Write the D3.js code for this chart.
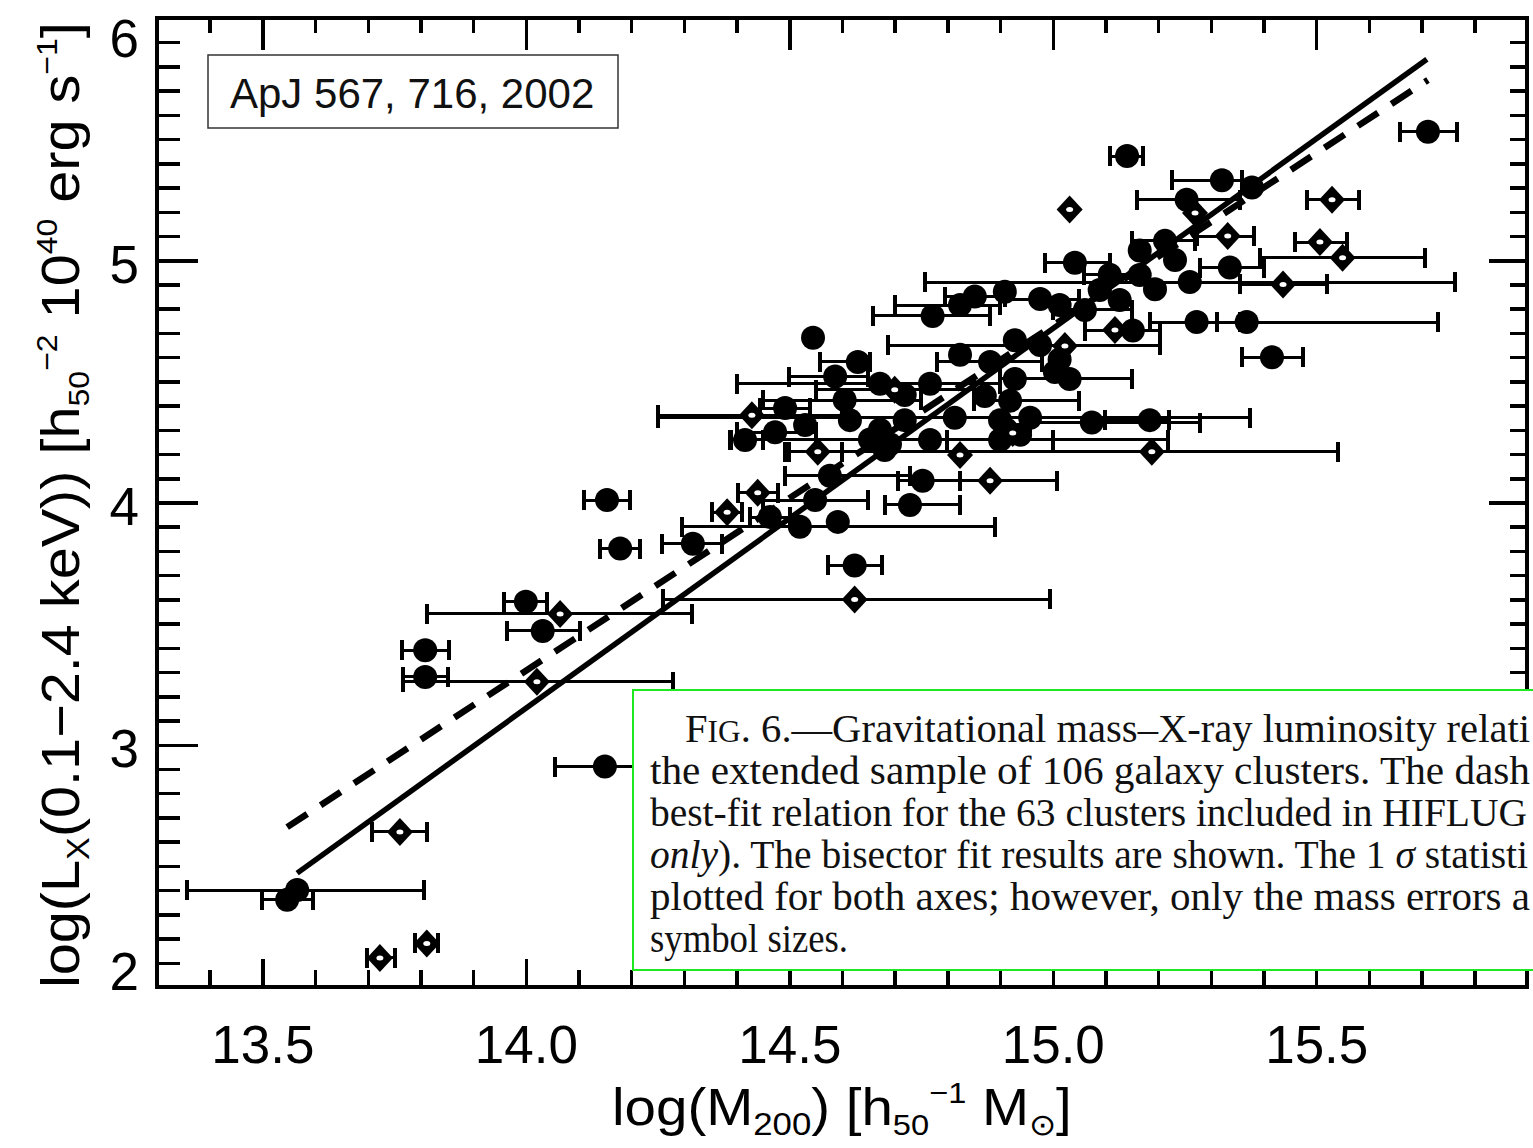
<!DOCTYPE html>
<html><head><meta charset="utf-8">
<script src="https://cdn.jsdelivr.net/npm/d3@7"></script>
<style>
html,body{margin:0;padding:0;background:#fff;overflow:hidden;}
svg{display:block;}
</style></head><body>
<svg id="chart" width="1533" height="1148"></svg>
<script>
// HIFLUGCS clusters (filled circles): log M200, log Lx, mass error bounds
const circMass = [13.566,13.547,13.809,13.809,14.000,14.032,14.150,14.154,14.179,14.624,14.317,15.712,15.141,15.321,15.254,15.416,15.368,14.545,14.772,15.273,15.213,15.165,15.042,15.108,15.194,15.260,15.336,14.852,14.909,14.976,15.152,14.928,14.630,14.587,14.824,15.013,15.032,14.672,14.767,14.871,14.928,14.492,14.530,14.615,14.672,14.719,14.814,14.900,14.957,15.074,15.184,14.653,14.691,14.938,14.753,14.577,14.729,14.520,14.592,14.463,15.378,14.919,14.473,
  14.681,14.976,15.004,14.900,15.013,15.061,15.089,14.767,14.605,14.719,15.165,15.232,14.824,14.549,14.416,15.127,14.881];
const circLum  = [2.40,2.36,3.39,3.28,3.59,3.47,2.91,4.01,3.81,3.74,3.83,5.53,5.43,5.33,5.25,4.60,4.745,4.68,4.77,4.745,5.08,5.04,4.99,4.94,4.88,4.91,4.97,4.85,4.87,4.84,4.71,4.67,4.58,4.52,4.61,4.59,4.51,4.49,4.49,4.44,4.51,4.39,4.32,4.34,4.30,4.34,4.35,4.34,4.35,4.33,4.34,4.26,4.24,4.28,4.09,4.11,3.99,3.90,3.92,3.94,5.30,4.42,4.29,
  4.217,4.650,4.539,4.258,4.815,4.795,4.877,4.258,4.423,4.444,4.939,5.001,4.815,4.010,4.258,4.836,4.580];
const circLo   = [13.357,13.499,13.765,13.767,13.958,13.964,14.055,14.110,14.141,14.573,14.258,15.659,15.108,15.226,15.160,15.359,15.311,null,14.659,15.184,15.150,null,14.985,15.060,null,14.757,15.280,14.795,null,14.900,15.061,null,14.558,14.500,null,null,14.900,14.400,null,null,null,14.444,null,null,null,null,14.251,null,null,14.957,15.100,14.387,null,null,14.706,14.492,14.681,14.296,null,14.425,null,14.850,14.400,
  null,14.687,null,14.800,null,15.000,null,null,14.450,null,null,null,14.700,14.450,14.390,null,14.780];
const circHi   = [13.807,13.596,13.854,13.852,14.040,14.103,14.245,14.198,14.217,14.676,14.372,15.767,15.171,15.359,15.355,15.475,15.731,null,14.881,15.355,15.270,null,15.108,15.160,null,15.763,15.400,14.909,null,15.050,15.203,null,14.653,14.650,null,null,15.150,14.900,null,null,null,14.539,null,null,null,null,15.374,null,null,15.279,15.220,15.218,null,null,14.824,14.729,14.824,14.890,null,14.501,null,15.050,14.550,
  null,15.203,null,15.000,null,15.150,null,null,14.750,null,null,null,14.900,14.650,14.450,null,14.980];

// Additional clusters of the extended sample (open diamonds)
const diaMass = [13.723,13.812,13.761,14.065,14.021,14.624,15.530,15.032,15.332,15.507,15.550,15.437,14.881,14.440,14.382,14.429,15.188,14.554,15.270,14.924,15.023,14.700,14.824,15.118];
const diaLum  = [2.12,2.18,2.64,3.54,3.26,3.60,5.25,5.21,5.10,5.075,5.01,4.90,4.09,4.04,3.96,4.36,4.21,4.21,5.195,4.287,4.646,4.465,4.196,4.712];
const diaLo   = [13.698,13.790,13.708,13.812,13.767,14.260,15.482,null,15.273,15.459,15.393,15.355,14.706,14.402,14.353,14.250,14.492,14.500,null,null,null,14.550,null,null];
const diaHi   = [13.752,13.833,13.812,14.315,14.279,14.994,15.581,null,15.382,15.558,15.706,15.520,15.008,14.478,14.410,14.600,15.541,14.600,null,null,null,14.850,null,null];

// Bisector fits: solid = extended sample, dashed = HIFLUGCS only
const fitSolidMass  = [13.566, 15.710];
const fitSolidLum   = [2.47, 5.83];
const fitDashedMass = [13.547, 15.712];
const fitDashedLum  = [2.66, 5.744];

// Axis ticks
const xDomain = [13.3, 15.9];
const yDomain = [2, 6];
const xMajorTicks = [13.5, 14.0, 14.5, 15.0, 15.5];
const xTickLabels = ["13.5", "14.0", "14.5", "15.0", "15.5"];
const yMajorTicks = [2, 3, 4, 5, 6];
const yTickLabels = ["2", "3", "4", "5", "6"];

const refText = "ApJ 567, 716, 2002";
const captionLines = [
  "the extended sample of 106 galaxy clusters. The dash",
  "best-fit relation for the 63 clusters included in HIFLUG",
  null,
  "plotted for both axes; however, only the mass errors a",
  "symbol sizes."
];

const svg = d3.select("#chart");
const L = 157, R = 1527, T = 18, B = 987;
const x = d3.scaleLinear().domain(xDomain).range([L, R]);
const y = d3.scaleLinear().domain(yDomain).range([B, T]);

const xMinor = d3.range(134, 159).map(v => v / 10).filter(v => !xMajorTicks.some(m => Math.abs(m - v) < 1e-6));
const yMinor = d3.range(21, 60).map(v => v / 10).filter(v => !yMajorTicks.some(m => Math.abs(m - v) < 1e-6));

const font = "'Liberation Sans', Arial, sans-serif";

// ---- axes (ticks point inward on all four sides) ----
function styleAxis(g) {
  g.select(".domain").remove();
  g.selectAll(".tick line").attr("stroke", "#000").attr("stroke-width", 3.5).attr("shape-rendering", "crispEdges");
}
svg.append("g").attr("transform", `translate(0,${B})`)
  .call(d3.axisBottom(x).tickValues(xMinor).tickSize(-17).tickFormat(""))
  .call(styleAxis);
svg.append("g").attr("transform", `translate(0,${B})`)
  .call(d3.axisBottom(x).tickValues(xMajorTicks).tickSize(-28).tickPadding(38)
    .tickFormat((d, i) => xTickLabels[i]))
  .call(styleAxis)
  .call(g => g.selectAll("text").attr("font-family", font).attr("font-size", 53).attr("fill", "#000"));
svg.append("g").attr("transform", `translate(0,${T})`)
  .call(d3.axisTop(x).tickValues(xMinor).tickSize(-15).tickFormat(""))
  .call(styleAxis);
svg.append("g").attr("transform", `translate(0,${T})`)
  .call(d3.axisTop(x).tickValues(xMajorTicks).tickSize(-32).tickFormat(""))
  .call(styleAxis);

svg.append("g").attr("transform", `translate(${L},0)`)
  .call(d3.axisLeft(y).tickValues(yMinor).tickSize(-23).tickFormat(""))
  .call(styleAxis);
svg.append("g").attr("transform", `translate(${L},0)`)
  .call(d3.axisLeft(y).tickValues(yMajorTicks).tickSize(-41).tickPadding(18)
    .tickFormat((d, i) => yTickLabels[i]))
  .call(styleAxis)
  .call(g => g.selectAll("text").attr("font-family", font).attr("font-size", 53).attr("fill", "#000")
    .attr("dy", d => d === 6 ? "38px" : d === 2 ? "2px" : "22px"));
svg.append("g").attr("transform", `translate(${R},0)`)
  .call(d3.axisRight(y).tickValues(yMinor).tickSize(-17).tickFormat(""))
  .call(styleAxis);
svg.append("g").attr("transform", `translate(${R},0)`)
  .call(d3.axisRight(y).tickValues(yMajorTicks).tickSize(-38).tickFormat(""))
  .call(styleAxis);

// plot frame
svg.append("rect").attr("x", L).attr("y", T).attr("width", R - L).attr("height", B - T)
  .attr("fill", "none").attr("stroke", "#000").attr("stroke-width", 4).attr("shape-rendering", "crispEdges");

// ---- fit lines ----
const line = d3.line().x(d => x(d[0])).y(d => y(d[1]));
svg.append("path").datum(d3.zip(fitDashedMass, fitDashedLum)).attr("d", line)
  .attr("fill", "none").attr("stroke", "#000").attr("stroke-width", 6.5).attr("stroke-dasharray", "24,16");
svg.append("path").datum(d3.zip(fitSolidMass, fitSolidLum)).attr("d", line)
  .attr("fill", "none").attr("stroke", "#000").attr("stroke-width", 5.5);

// ---- points with horizontal mass error bars ----
const pts = [];
circMass.forEach((m, i) => pts.push({m, l: circLum[i], lo: circLo[i], hi: circHi[i], kind: "c"}));
diaMass.forEach((m, i) => pts.push({m, l: diaLum[i], lo: diaLo[i], hi: diaHi[i], kind: "d"}));

const eb = svg.append("g").attr("stroke", "#000").attr("shape-rendering", "crispEdges");
pts.filter(p => p.lo != null).forEach(p => {
  const yy = y(p.l);
  eb.append("line").attr("x1", x(p.lo)).attr("x2", x(p.hi)).attr("y1", yy).attr("y2", yy).attr("stroke-width", 3);
  [p.lo, p.hi].forEach(v => eb.append("line").attr("x1", x(v)).attr("x2", x(v))
    .attr("y1", yy - 10).attr("y2", yy + 10).attr("stroke-width", 4));
});

const sym = svg.append("g");
pts.forEach(p => {
  const cx = x(p.m), cy = y(p.l);
  if (p.kind === "c") {
    sym.append("circle").attr("cx", cx).attr("cy", cy).attr("r", 12).attr("fill", "#000");
  } else {
    sym.append("path").attr("d", `M${cx},${cy - 14}L${cx + 13},${cy}L${cx},${cy + 14}L${cx - 13},${cy}Z`).attr("fill", "#000");
    sym.append("ellipse").attr("cx", cx).attr("cy", cy).attr("rx", 3.5).attr("ry", 2.5).attr("fill", "#fff");
  }
});

// ---- axis titles ----
function fitLength(sel, target) {
  const len = sel.node().getComputedTextLength();
  return target / len;
}
const xt = svg.append("text").attr("font-family", font).attr("font-size", 52).attr("fill", "#000");
xt.append("tspan").text("log(M");
xt.append("tspan").attr("font-size", 32).attr("dy", 10).text("200");
xt.append("tspan").attr("dy", -10).text(") [h");
xt.append("tspan").attr("font-size", 30).attr("dy", 10).text("50");
xt.append("tspan").attr("font-size", 30).attr("dy", -32).text("−1");
xt.append("tspan").attr("dy", 22).text(" M");
xt.append("tspan").attr("font-size", 30).attr("dy", 10).text("⊙");
xt.append("tspan").attr("dy", -10).text("]");
const sx = fitLength(xt, 460);
xt.attr("transform", `translate(612,1125) scale(${sx},1)`);

const yt = svg.append("text").attr("font-family", font).attr("font-size", 54).attr("fill", "#000");
yt.append("tspan").text("log(L");
yt.append("tspan").attr("font-size", 32).attr("dy", 10).text("X");
yt.append("tspan").attr("dy", -10).text("(0.1−2.4 keV)) [h");
yt.append("tspan").attr("font-size", 30).attr("dy", 10).text("50");
yt.append("tspan").attr("font-size", 30).attr("dy", -32).text("−2");
yt.append("tspan").attr("dy", 22).text(" 10");
yt.append("tspan").attr("font-size", 30).attr("dy", -22).text("40");
yt.append("tspan").attr("dy", 22).text(" erg s");
yt.append("tspan").attr("font-size", 30).attr("dy", -22).text("−1");
yt.append("tspan").attr("dy", 22).text("]");
const sy = fitLength(yt, 966);
yt.attr("transform", `translate(79,988) rotate(-90) scale(${sy},1)`);

// ---- reference label ----
svg.append("rect").attr("x", 208).attr("y", 55).attr("width", 410).attr("height", 73)
  .attr("fill", "#fff").attr("stroke", "#333").attr("stroke-width", 1.5);
svg.append("text").attr("x", 230).attr("y", 108).attr("font-family", font).attr("font-size", 42)
  .attr("fill", "#111").text(refText);

// ---- figure caption (its box runs to the right edge of the page) ----
const cap = svg.append("g");
cap.append("rect").attr("x", 633).attr("y", 690).attr("width", 920).attr("height", 280)
  .attr("fill", "#fff").attr("stroke", "#1ee81e").attr("stroke-width", 2);
const serif = "'Liberation Serif', 'Times New Roman', serif";
const capY = [742, 784, 826, 868, 910, 952];
const capRight = 1530;
const l1 = cap.append("text").attr("x", 685).attr("y", capY[0]).attr("font-family", serif).attr("font-size", 40)
  .attr("fill", "#111").attr("textLength", capRight - 685).attr("lengthAdjust", "spacingAndGlyphs");
l1.append("tspan").text("F");
l1.append("tspan").attr("font-size", 31).text("IG");
l1.append("tspan").text(". 6.—Gravitational mass–X-ray luminosity relati");
captionLines.forEach((s, i) => {
  if (s === null) return;
  const t = cap.append("text").attr("x", 650).attr("y", capY[i + 1]).attr("font-family", serif).attr("font-size", 40)
    .attr("fill", "#111").text(s);
  t.attr("textLength", i < 4 ? capRight - 650 - (i === 1 ? 3 : 0) : 198).attr("lengthAdjust", "spacingAndGlyphs");
});
const l4 = cap.append("text").attr("x", 650).attr("y", capY[3]).attr("font-family", serif).attr("font-size", 40)
  .attr("fill", "#111").attr("textLength", capRight - 650 - 2).attr("lengthAdjust", "spacingAndGlyphs");
l4.append("tspan").attr("font-style", "italic").text("only");
l4.append("tspan").text("). The bisector fit results are shown. The 1 ");
l4.append("tspan").attr("font-style", "italic").text("σ");
l4.append("tspan").text(" statisti");
</script>
</body></html>
